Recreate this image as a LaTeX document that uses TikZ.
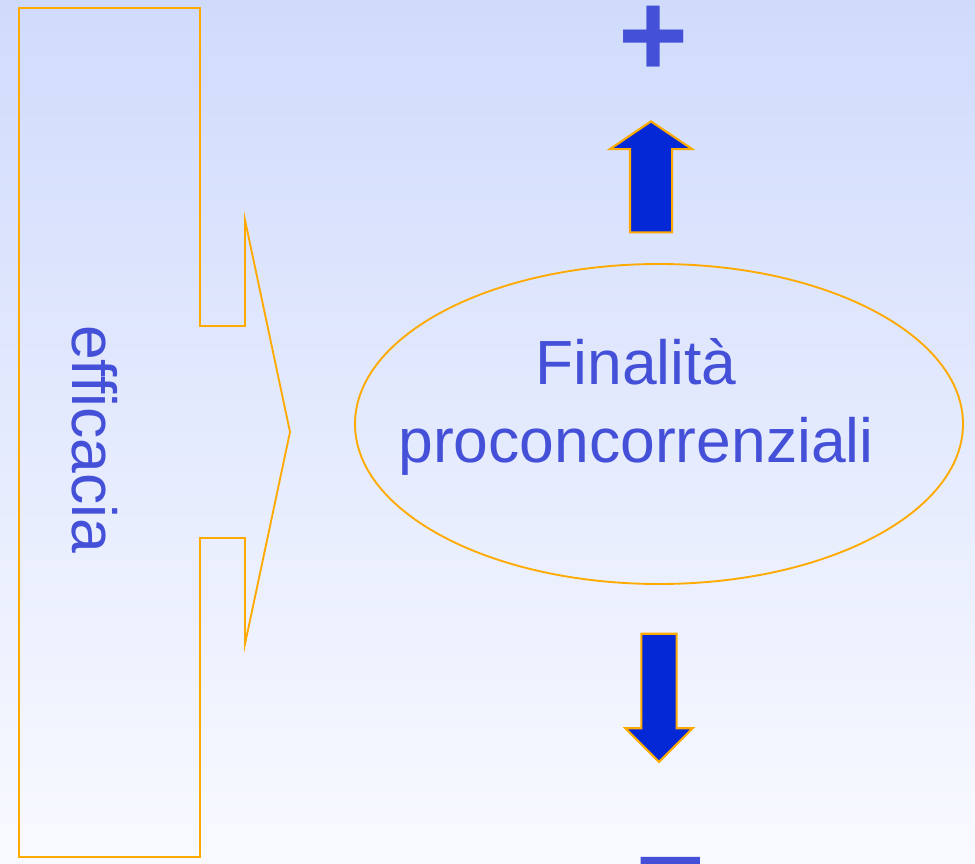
\documentclass[tikz,border=0pt]{standalone}
\usepackage{fontspec}
\setmainfont{Liberation Sans}[Ligatures=NoCommon]
\usepackage{tikz}
\usetikzlibrary{shapes.geometric, shapes.arrows, positioning}
\definecolor{bgtop}{RGB}{208,219,252}
\definecolor{bgbot}{RGB}{249,250,255}
\definecolor{txtblue}{RGB}{68,80,216}
\definecolor{arrblue}{RGB}{5,40,214}
\definecolor{edgeorange}{RGB}{255,170,0}
\tikzset{bubble/.style={ellipse,draw=edgeorange,line width=1.4pt,minimum width=456pt,minimum height=240pt,inner sep=0pt},
         bigtext/.style={text=txtblue,align=center,font=\fontsize{46.8pt}{58.5pt}\selectfont,inner sep=0pt},
         sign/.style={text=txtblue,font=\fontsize{90pt}{90pt}\selectfont\bfseries,inner sep=0pt},
         callout/.style={draw=edgeorange,line width=1.4pt,line join=miter},
         bigarrow/.style={single arrow,draw=edgeorange,fill=arrblue,line width=1.6pt,single arrow head indent=0pt}}

\begin{document}
\begin{tikzpicture}[x=0.75pt,y=-0.75pt]
    % Background
    \useasboundingbox (0,0) rectangle (975,864);
    \shade[top color=bgtop,bottom color=bgbot] (0,0) rectangle (975,864);
    % Callout box
    \draw[callout] (19,8) -- (200,8) -- (200,326) -- (245,326) -- (245,220) -- (290,432)
        -- (245,644) -- (245,538) -- (200,538) -- (200,857) -- (19,857) -- cycle;
    \node (eff) at (72,439) [bigtext,rotate=-90,anchor=base]{efficacia};
    % Ellipse
    \node (fin) at (659,424) [bubble]{};
    \node (fintext) at (636,407) [bigtext]{Finalità\\proconcorrenziali};
    % Arrows
    \node (up) at (651,184) [bigarrow,shape border rotate=90,inner sep=15pt,minimum height=83.25pt,single arrow head extend=15pt,single arrow tip angle=112]{};
    \node (down) at (659,689) [bigarrow,shape border rotate=270,inner sep=12.4pt,minimum height=96pt,single arrow head extend=12pt,single arrow tip angle=90]{};
    % Signs
    \node (plus) at (654,41) [sign]{+};
    \node (minus) at (670.5,857) [sign,anchor=north]{–};
\end{tikzpicture}
\end{document}
